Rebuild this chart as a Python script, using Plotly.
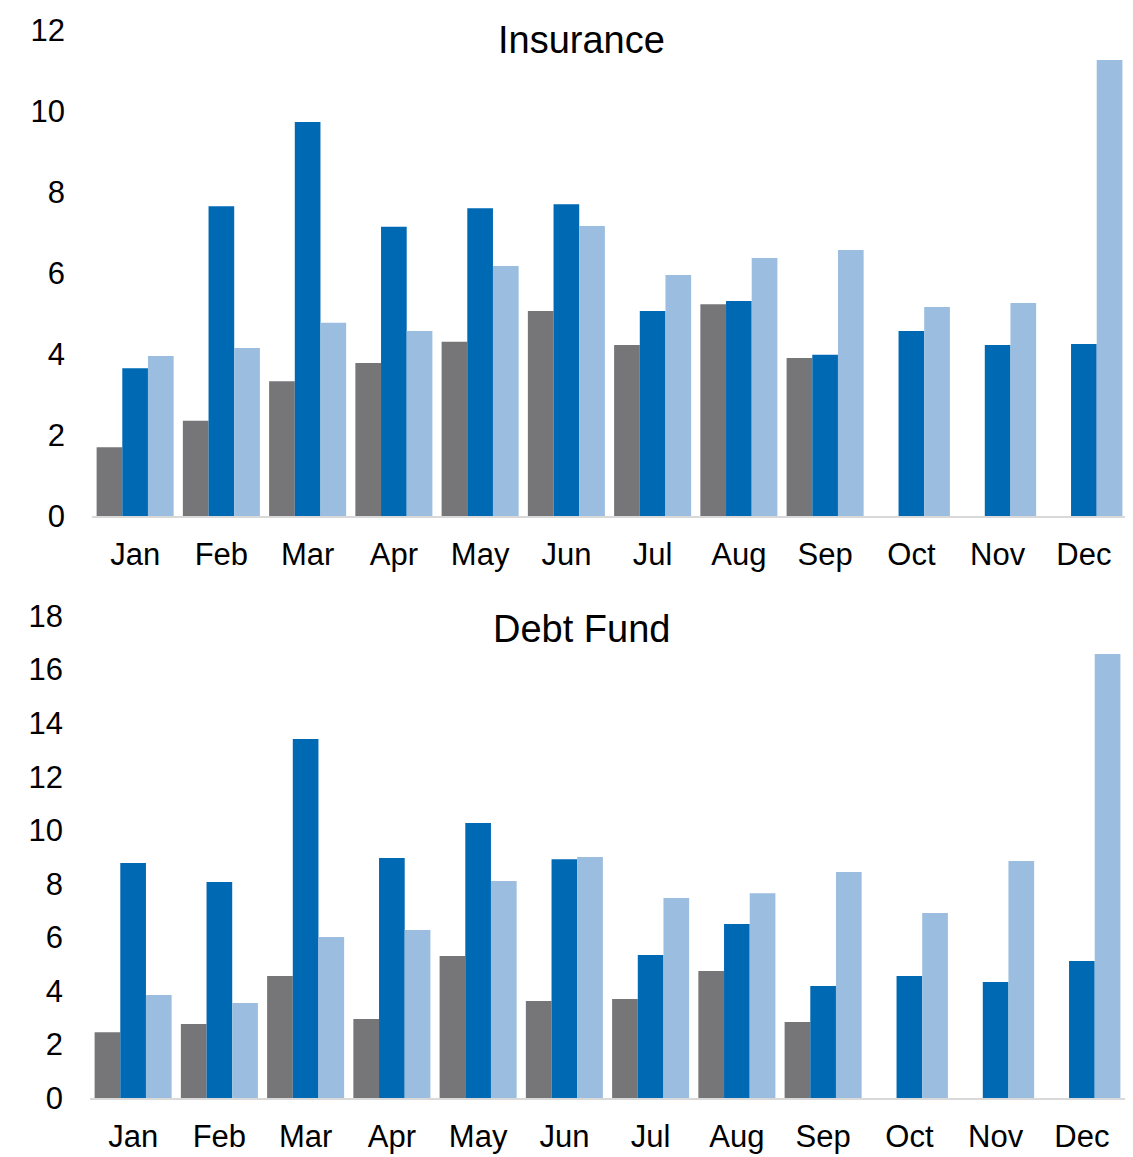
import plotly.graph_objects as go

months = ["Jan", "Feb", "Mar", "Apr", "May", "Jun", "Jul", "Aug", "Sep", "Oct", "Nov", "Dec"]

ins_gray = [1.70, 2.35, 3.33, 3.78, 4.30, 5.06, 4.22, 5.23, 3.90, None, None, None]
ins_dark = [3.65, 7.65, 9.73, 7.14, 7.60, 7.70, 5.06, 5.31, 3.98, 4.57, 4.22, 4.25]
ins_light = [3.95, 4.15, 4.77, 4.57, 6.17, 7.16, 5.95, 6.37, 6.57, 5.16, 5.26, 11.26]

debt_gray = [2.46, 2.76, 4.56, 2.95, 5.30, 3.62, 3.70, 4.74, 2.84, None, None, None]
debt_dark = [8.78, 8.07, 13.41, 8.96, 10.27, 8.92, 5.34, 6.50, 4.18, 4.56, 4.33, 5.12]
debt_light = [3.85, 3.55, 6.01, 6.27, 8.10, 9.00, 7.47, 7.65, 8.44, 6.91, 8.85, 16.58]

ins_ticks = [0, 2, 4, 6, 8, 10, 12]
debt_ticks = [0, 2, 4, 6, 8, 10, 12, 14, 16, 18]

GRAY = "#767679"
DARK = "#0069B4"
LIGHT = "#9BBDDF"
FONT = "Liberation Sans, Arial, sans-serif"

# page body has an 8px margin; work in page pixels and convert
OFF = 8
W, H = 1133 - OFF, 1157 - OFF
L, R, T, B = 90 - OFF, 6, 30 - OFF, 1157 - 1098
PW, PH = W - L - R, H - T - B

def px_x(px):
    return (px - OFF - L) / PW

def px_y(py):
    return (H - B - (py - OFF)) / PH

fig = go.Figure()
for vals, col, xa, ya in [
    (ins_gray, GRAY, "x", "y"), (ins_dark, DARK, "x", "y"), (ins_light, LIGHT, "x", "y"),
    (debt_gray, GRAY, "x2", "y2"), (debt_dark, DARK, "x2", "y2"), (debt_light, LIGHT, "x2", "y2"),
]:
    fig.add_trace(go.Bar(x=months, y=vals, marker=dict(color=col, line=dict(width=0)),
                         xaxis=xa, yaxis=ya, showlegend=False))

axis_font = dict(family=FONT, size=31, color="#000000")
xcommon = dict(type="category", showgrid=False, showline=True, linecolor="#D9D9D9", linewidth=2,
               ticks="", tickfont=axis_font, ticklabelstandoff=10, zeroline=False, automargin=False)
ycommon = dict(showgrid=False, showline=False, zeroline=False, ticks="", tickfont=axis_font,
               ticklabelstandoff=26, automargin=False)

fig.update_layout(
    width=W, height=H,
    margin=dict(l=L, r=R, t=T, b=B, autoexpand=False),
    paper_bgcolor="white", plot_bgcolor="white",
    barmode="group", bargap=0.107, bargroupgap=0,
    xaxis=dict(**xcommon, domain=[px_x(92), 1.0], anchor="y"),
    yaxis=dict(**ycommon, domain=[px_y(516), 1.0], range=[0, 12], tickvals=ins_ticks, anchor="x"),
    xaxis2=dict(**xcommon, domain=[0.0, px_x(1125)], anchor="y2"),
    yaxis2=dict(**ycommon, domain=[0.0, px_y(616)], range=[0, 18], tickvals=debt_ticks, anchor="x2"),
    annotations=[
        dict(text="Insurance", x=px_x(581), y=px_y(40), xref="paper", yref="paper", showarrow=False,
             yanchor="middle", font=dict(family=FONT, size=38, color="#000000")),
        dict(text="Debt Fund", x=px_x(581), y=px_y(629), xref="paper", yref="paper", showarrow=False,
             yanchor="middle", font=dict(family=FONT, size=38, color="#000000")),
    ],
)

fig.write_html("out.html")
